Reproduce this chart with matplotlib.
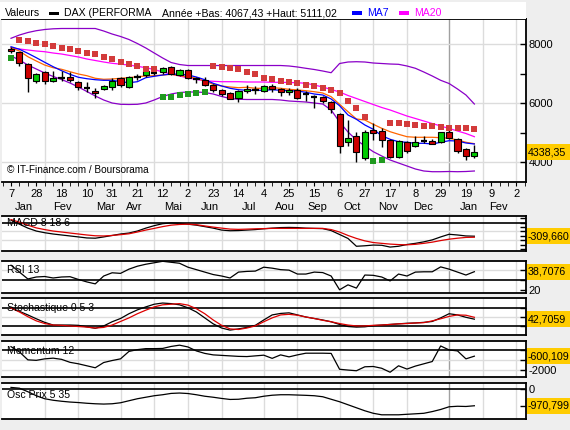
import numpy as np
import matplotlib.pyplot as plt
from matplotlib.patches import Rectangle
from matplotlib.transforms import blended_transform_factory

plt.rcParams['font.family'] = ['Liberation Sans', 'DejaVu Sans']

W, H = 570, 430

# weekly candles, DAX, week 0 = 7 Jan 2008
opens = [7841, 7729, 7322, 6766, 7051, 6756, 6868, 6892, 6722, 6509, 6407, 6475, 6542, 6848,
         6563, 6902, 6949, 7027, 7051, 7221, 6949, 7129, 6814, 6800, 6620, 6451, 6339, 6190,
         6407, 6451, 6427, 6597, 6485, 6383, 6451, 6315, 6204, 6224, 6034, 5627, 4678, 4892,
         4136, 5095, 5061, 4756, 4190, 4678, 4563, 4732, 4722, 4678, 5040, 4780, 4451, 4214]
highs = [7909, 7749, 7350, 7037, 7105, 7095, 7105, 7051, 6740, 6732, 6509, 6610, 6848, 6902,
         6936, 7004, 7119, 7129, 7231, 7265, 7163, 7163, 6902, 6882, 6654, 6485, 6373, 6461,
         6620, 6597, 6620, 6644, 6529, 6529, 6509, 6417, 6281, 6258, 6078, 5661, 5434, 5027,
         5095, 5322, 5153, 4780, 4756, 4712, 4892, 4902, 4790, 5037, 5111, 4814, 4495, 4586]
lows = [7695, 7275, 6393, 6698, 6664, 6712, 6766, 6732, 6451, 6373, 6190, 6440, 6451, 6542,
        6529, 6780, 6902, 6960, 7004, 6960, 6926, 6814, 6698, 6587, 6393, 6258, 6136, 6034,
        6339, 6305, 6393, 6393, 6237, 6281, 6136, 6088, 5831, 6000, 5661, 4325, 4563, 4020,
        4078, 4756, 4529, 4136, 4136, 4325, 4529, 4664, 4610, 4644, 4780, 4325, 4067, 4156]
closes = [7773, 7356, 6848, 6983, 6766, 6848, 6868, 6780, 6542, 6509, 6339, 6576, 6766, 6620,
          6892, 6902, 7085, 7027, 7187, 6983, 7129, 6848, 6814, 6620, 6441, 6305, 6156, 6417,
          6485, 6451, 6576, 6475, 6373, 6451, 6170, 6315, 6204, 6078, 5817, 4563, 4814, 4339,
          5017, 4983, 4756, 4170, 4722, 4393, 4678, 4732, 4630, 5017, 4814, 4393, 4214, 4338.35]

sar = [7536, 8146, 8122, 8054, 8000, 7943, 7865, 7831, 7783, 7695, 7671, 7580, 7492, 7390,
       7322, 7265, 7173, 7153, 6214, 6214, 6281, 6315, 6349, 6383, 7265, 7231, 7197, 7153,
       7051, 6983, 6868, 6824, 6756, 6712, 6678, 6620, 6587, 6509, 6451, 6339, 6078, 5831,
       5526, 4044, 4078, 5322, 5322, 5288, 5254, 5220, 5220, 5187, 5153, 5153, 5153, 5119]

ma7 = [7919, 7831, 7695, 7546, 7390, 7241, 7105, 6983, 6882, 6834, 6800, 6780, 6780, 6732,
       6698, 6732, 6868, 6915, 6959, 6993, 6983, 6959, 6892, 6800, 6678, 6587, 6509, 6461,
       6441, 6441, 6441, 6461, 6441, 6427, 6417, 6373, 6315, 6282, 6146, 5919, 5604, 5458,
       5265, 5119, 4902, 4780, 4698, 4678, 4644, 4644, 4620, 4678, 4732, 4722, 4654, 4620]
ma_orange = [7885, 7773, 7580, 7434, 7297, 7207, 7153, 7071, 6993, 6936, 6848, 6814, 6824, 6848,
             6868, 6902, 6926, 6936, 6959, 6983, 6936, 6902, 6848, 6756, 6644, 6587, 6553, 6529,
             6543, 6509, 6509, 6529, 6509, 6475, 6451, 6427, 6393, 6349, 6224, 5966, 5715, 5468,
             5434, 5288, 5153, 5037, 4949, 4868, 4848, 4848, 4848, 4834, 4814, 4756, 4678, 4631]
ma20 = [7875, 7841, 7807, 7773, 7749, 7705, 7671, 7620, 7570, 7502, 7451, 7400, 7356, 7326,
        7298, 7254, 7207, 7146, 7061, 6993, 6926, 6858, 6807, 6766, 6746, 6732, 6732, 6732,
        6722, 6722, 6722, 6712, 6712, 6705, 6698, 6678, 6620, 6553, 6468, 6383, 6265, 6163,
        6061, 5959, 5858, 5773, 5671, 5569, 5485, 5400, 5315, 5231, 5146, 5061, 4976, 4868]
boll_up = [8204, 8315, 8400, 8461, 8502, 8526, 8536, 8536, 8536, 8536, 8536, 8451, 8349, 8265,
           8163, 8027, 7875, 7705, 7536, 7383, 7315, 7281, 7281, 7281, 7281, 7281, 7281, 7281,
           7281, 7281, 7281, 7281, 7281, 7265, 7231, 7187, 7146, 7095, 7037, 7349, 7400, 7410,
           7400, 7366, 7349, 7332, 7322, 7265, 7187, 7061, 6926, 6780, 6671, 6485, 6282, 5976]
boll_low = [7604, 7468, 7297, 7163, 7027, 6909, 6807, 6688, 6553, 6400, 6248, 6112, 6010, 5966,
            5960, 5966, 6010, 6112, 6231, 6315, 6366, 6383, 6383, 6366, 6315, 6231, 6163, 6136,
            6129, 6129, 6129, 6129, 6112, 6078, 6061, 6044, 6010, 5976, 5773, 5366, 5027, 4756,
            4553, 4359, 4214, 4078, 3976, 3875, 3773, 3705, 3681, 3681, 3688, 3681, 3688, 3705]

macd = [51, -38, -127, -193, -231, -260, -282, -304, -326, -349, -355, -326, -293, -260,
        -238, -193, -127, -71, -27, -9, -16, -38, -60, -93, -127, -171, -186, -182,
        -171, -160, -142, -127, -115, -111, -115, -127, -133, -138, -182, -271, -360, -537,
        -526, -510, -515, -555, -537, -497, -471, -437, -393, -326, -266, -282, -304, -309.66]
macd_sig = [67, 7, -60, -122, -160, -193, -215, -238, -260, -282, -300, -304, -293, -275,
            -255, -215, -171, -133, -93, -60, -44, -38, -49, -78, -104, -127, -149, -155,
            -149, -142, -138, -133, -133, -133, -133, -133, -133, -133, -160, -215, -293, -360,
            -415, -453, -471, -488, -499, -504, -493, -471, -444, -408, -377, -355, -337, -333]
rsi = [45.3, 38.3, 31.3, 33.3, 33.8, 32.3, 33.3, 33.6, 30.8, 28.3, 26.3, 34.3, 37.6, 37.0,
       41.3, 44.3, 46.3, 47.8, 49.3, 48.3, 47.3, 43.3, 40.8, 38.3, 35.8, 34.3, 32.3, 38.3,
       39.0, 39.3, 43.3, 42.3, 40.8, 40.3, 36.3, 36.3, 38.3, 37.8, 34.3, 20.3, 25.3, 22.0,
       35.3, 35.0, 33.3, 29.3, 36.3, 34.3, 38.3, 38.6, 38.6, 43.6, 41.3, 38.3, 35.3, 38.7076]
stoch_k = [80, 69, 57, 44, 32, 23, 23, 23, 22, 17, 12, 20, 34, 45,
           61, 74, 84, 93, 97, 95, 91, 81, 67, 47, 27, 13, 6, 10,
           15, 22, 40, 57, 62, 64, 57, 50, 45, 40, 34, 25, 18, 16,
           17, 21, 23, 25, 27, 29, 30, 32, 35, 47, 61, 57, 49, 42.7059]
stoch_d = [80, 67, 51, 37, 28, 23, 22, 20, 18, 16, 13, 15, 23, 35,
           47, 61, 73, 84, 91, 93, 95, 90, 78, 61, 40, 22, 10, 8,
           13, 20, 34, 47, 57, 59, 56, 50, 45, 39, 34, 28, 23, 20,
           20, 22, 23, 25, 27, 28, 30, 31, 37, 44, 52, 57, 56, 49]
momentum = [360, -170, -970, -1020, -870, -800, -920, -1220, -1370, -1570, -1770, -1240, -1040, -870,
            -120, 60, 160, 160, 180, 380, 510, 330, -70, -320, -470, -520, -570, -620,
            -640, -570, -500, -820, -470, -670, -470, -300, -300, -300, -320, -1920, -2000, -2070,
            -1670, -1640, -1820, -2220, -1570, -1900, -1600, -1370, -1140, 430, 30, -70, -870, -600.109]
osc_prix = [74, 29, -171, -400, -571, -657, -714, -759, -788, -828, -857, -874, -857, -800,
            -685, -571, -485, -400, -343, -268, -246, -274, -343, -428, -485, -554, -611, -600,
            -542, -514, -428, -371, -343, -343, -360, -377, -400, -457, -600, -742, -913, -1085,
            -1256, -1399, -1485, -1485, -1485, -1456, -1428, -1399, -1302, -1182, -1028, -999, -1011, -970.799]

day_labels = ['7', '28', '18', '10', '31', '21', '12', '2', '23', '14', '4', '25', '15', '6',
              '27', '17', '8', '29', '19', '9', '2']
month_labels = ['Jan', 'Fev', 'Mar', 'Avr', 'Mai', 'Jun', 'Jul', 'Aou', 'Sep', 'Oct', 'Nov', 'Dec',
                'Jan', 'Fev']
month_pos = [1.5, 6.1, 11.2, 14.6, 19.2, 23.6, 28.2, 32.5, 36.4, 40.5, 44.7, 48.9, 54.3, 57.8]
grid_weeks = [4, 8, 13, 17, 21, 25, 30, 34, 39, 43, 47, 56, 60]
year_week = 52

weeks = np.arange(len(closes))
XL = (-1.07, 61.13)
GRID = '#DCDCDC'
FS = 7.6

fig = plt.figure(figsize=(W / 100, H / 100), dpi=100, facecolor='#EEEEEE')


def px_axes(x0, y0, x1, y1):
    return fig.add_axes([x0 / W, 1 - y1 / H, (x1 - x0) / W, (y1 - y0) / H])


def base_panel(ax, ylim):
    ax.set_xlim(*XL)
    ax.set_ylim(*ylim)
    ax.set_facecolor('white')
    for w in grid_weeks:
        ax.axvline(w, color=GRID, lw=1, zorder=0)
    ax.axvline(year_week, color='#A0A0A0', lw=1, zorder=0)
    ax.spines['left'].set_visible(False)
    for s in ['top', 'bottom', 'right']:
        ax.spines[s].set_linewidth(1.3)
    ax.yaxis.tick_right()
    ax.tick_params(axis='y', direction='in', length=4, pad=2, labelsize=FS + 0.4, width=1)
    ax.set_xticks([])


def value_box(ax, val, txt):
    y0, y1 = ax.get_ylim()
    upp = (y1 - y0) / (ax.get_position().height * H)
    tr = blended_transform_factory(fig.transFigure, ax.transData)
    fig.add_artist(Rectangle((527 / W, val - 8 * upp), 43 / W, 16 * upp, transform=tr,
                             facecolor='#FFCC00', edgecolor='none'))
    fig.text(527.5 / W, val, txt, transform=tr, va='center', ha='left', fontsize=7.7)


# title bar
fig.add_artist(Rectangle((0, 1 - 19 / H), 526 / W, 17 / H, transform=fig.transFigure,
                         facecolor='white', edgecolor='none'))
ty = 1 - 13 / H
fig.text(5 / W, ty, 'Valeurs', fontsize=FS, va='center')
fig.add_artist(Rectangle((49 / W, 1 - 15 / H), 10 / W, 3 / H, transform=fig.transFigure,
                         facecolor='black', edgecolor='none'))
fig.text(64 / W, ty, 'DAX (PERFORMA', fontsize=FS, va='center')
fig.text(162 / W, ty, 'Année +Bas: 4067,43 +Haut: 5111,02', fontsize=FS, va='center')
fig.add_artist(Rectangle((352 / W, 1 - 15 / H), 10 / W, 4 / H, transform=fig.transFigure,
                         facecolor='#0000FF', edgecolor='none'))
fig.text(367 / W, ty, 'MA7', fontsize=FS, va='center', color='#0000FF')
fig.add_artist(Rectangle((399 / W, 1 - 15 / H), 10 / W, 4 / H, transform=fig.transFigure,
                         facecolor='#FF00FF', edgecolor='none'))
fig.text(414 / W, ty, 'MA20', fontsize=FS, va='center', color='#FF00FF')

# main price chart
ax = px_axes(2, 19, 526, 182)
base_panel(ax, (3332, 8858))
for v in [4000, 6000, 8000]:
    ax.axhline(v, color=GRID, lw=1, zorder=0)
ax.set_yticks([4000, 5000, 6000, 7000, 8000])
ax.set_yticklabels(['4000', '', '6000', '', '8000'])

ax.plot(weeks, boll_up, color='#8A00C8', lw=0.9, zorder=2)
ax.plot(weeks, boll_low, color='#8A00C8', lw=0.9, zorder=2)
ax.plot(weeks, ma20, color='#FF00FF', lw=0.9, zorder=2)
ax.plot(weeks, ma_orange, color='#FF6600', lw=0.9, zorder=2)
ax.plot(weeks, ma7, color='#0000FF', lw=0.9, zorder=2)

o = np.array(opens, float)
c = np.array(closes, float)
ax.vlines(weeks, lows, highs, color='black', lw=1, zorder=3)
up = c > o
dn = c < o
flat = ~(up | dn)
ax.bar(weeks[up], (c - o)[up], bottom=o[up], width=0.72, color='#00CC00',
       edgecolor='black', lw=0.8, zorder=4)
ax.bar(weeks[dn], (o - c)[dn], bottom=c[dn], width=0.72, color='#CC0000',
       edgecolor='black', lw=0.8, zorder=4)
ax.hlines(o[flat], weeks[flat] - 0.38, weeks[flat] + 0.38, color='black', lw=1.6, zorder=4)

s = np.array(sar, float)
above = s > c
ax.scatter(weeks[above], s[above], marker='s', s=22, color='#D33B3B', lw=0, zorder=5)
ax.scatter(weeks[~above], s[~above], marker='s', s=22, color='#1F9A1F', lw=0, zorder=5)

ax.text(5 / 524, 0.045, '\u00a9 IT-Finance.com / Boursorama', transform=ax.transAxes,
        fontsize=7.2, va='bottom', ha='left')

ax.set_xticks(range(0, 61, 3))
ax.set_xticks(range(-1, 62), minor=True)
ax.set_xticklabels(day_labels)
ax.tick_params(axis='x', which='both', direction='out', length=3, pad=2, labelsize=8,
               top=False, bottom=True)
xt = ax.get_xaxis_transform()
for m, p in zip(month_labels, month_pos):
    ax.text(p, -0.155, m, transform=xt, fontsize=8, ha='center', va='center')
value_box(ax, closes[-1], '4338,35')

# MACD
a1 = px_axes(2, 216, 526, 251)
base_panel(a1, (-644, 147))
for v in [-200, -400]:
    a1.axhline(v, color=GRID, lw=1, zorder=0)
a1.axhline(0, color='black', lw=1.2, zorder=1)
a1.set_yticks([-600, -500, -400, -300, -200, -100, 0, 100])
a1.set_yticklabels([])
a1.plot(weeks, macd, color='black', lw=0.9)
a1.plot(weeks, macd_sig, color='#DD0000', lw=0.9)
a1.text(0.01, 0.8, 'MACD 8 18 6', transform=a1.transAxes, fontsize=FS, va='center')
value_box(a1, macd[-1], '-309,660')

# RSI
a2 = px_axes(2, 261, 526, 293)
base_panel(a2, (17, 49.6))
a2.axhline(40, color=GRID, lw=1, zorder=0)
a2.axhline(30, color='black', lw=1.2, zorder=1)
a2.set_yticks([20, 30, 40])
a2.set_yticklabels(['20', '', ''])
a2.plot(weeks, rsi, color='black', lw=0.9)
a2.text(0.01, 0.72, 'RSI 13', transform=a2.transAxes, fontsize=FS, va='center')
value_box(a2, rsi[-1], '38,7076')

# Stochastique
a3 = px_axes(2, 298, 526, 335)
base_panel(a3, (-10.5, 113.9))
a3.axhline(50, color=GRID, lw=1, zorder=0)
for v in [20, 80]:
    a3.axhline(v, color='black', lw=1.2, zorder=1)
a3.set_yticks([20, 50, 80])
a3.set_yticklabels([])
a3.plot(weeks, stoch_k, color='black', lw=0.9)
a3.plot(weeks, stoch_d, color='#DD0000', lw=0.9)
a3.text(0.01, 0.73, 'Stochastique 0 5 3', transform=a3.transAxes, fontsize=FS, va='center')
value_box(a3, stoch_k[-1], '42,7059')

# Momentum
a4 = px_axes(2, 341, 526, 377)
base_panel(a4, (-2700, 930))
for v in [-1000, -2000]:
    a4.axhline(v, color=GRID, lw=1, zorder=0)
a4.axhline(0, color='black', lw=1.2, zorder=1)
a4.set_yticks([-2000, -1000, 0])
a4.set_yticklabels(['-2000', '', ''])
a4.plot(weeks, momentum, color='black', lw=0.9)
a4.text(0.01, 0.72, 'Momentum 12', transform=a4.transAxes, fontsize=FS, va='center')
value_box(a4, momentum[-1], '-600,109')

# Osc Prix
a5 = px_axes(2, 383, 526, 419)
base_panel(a5, (-1724, 325))
a5.axhline(0, color='black', lw=1.2, zorder=1)
a5.set_yticks([-1000, 0])
a5.set_yticklabels(['', '0'])
a5.plot(weeks, osc_prix, color='black', lw=0.9)
a5.text(0.01, 0.68, 'Osc Prix 5 35', transform=a5.transAxes, fontsize=FS, va='center')
value_box(a5, osc_prix[-1], '-970,799')

fig.savefig('out.png', dpi=100, facecolor=fig.get_facecolor())
